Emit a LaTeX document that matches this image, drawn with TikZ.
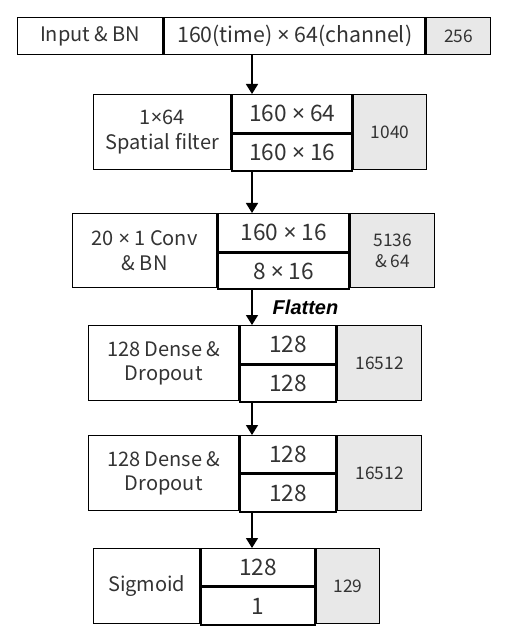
\documentclass[tikz,border=0pt]{standalone}
\usepackage{fontspec}
\setmainfont{Noto Sans CJK SC}
\newfontfamily\symfont{Noto Sans}
\newfontfamily\flatfont{Liberation Sans}
\newcommand{\timesx}{{\symfont ×}}
\usetikzlibrary{arrows.meta}
\definecolor{paramgray}{RGB}{232,232,232}
\definecolor{textgray}{RGB}{51,51,51}
\tikzset{
  cell/.style={draw, line width=1.1pt, inner sep=0pt, align=center, text=textgray,
    font=\fontsize{15}{18.5}\selectfont},
  dims/.style={cell, font=\fontsize{17}{20}\selectfont},
  param/.style={cell, fill=paramgray, font=\fontsize{13}{16}\selectfont},
  sz/.style 2 args={minimum width=#1*0.75pt, minimum height=#2*0.75pt},
  flow/.style={-{Triangle[length=7.5pt,width=9pt]}, line width=1.1pt}
}
\begin{document}
\begin{tikzpicture}[x=0.75pt,y=0.75pt,yscale=-1,xscale=1]
\useasboundingbox (0,0) rectangle (506,634);
\coordinate (axis) at (252,0);

%Row 1: input
\node [cell, sz={145}{37}, anchor=north west] (inName) at (17,17) {Input \& BN};
\node [dims, sz={261}{37}, anchor=north west, font=\fontsize{16}{19}\selectfont] (inShape) at (inName.north east) {160(time) \timesx{} 64(channel)};
\node [param, sz={64}{37}, anchor=north west] (inParam) at (inShape.north east) {256};

%Row 2: spatial filter
\node [cell, sz={137}{75}, anchor=north west] (sfName) at (93,94) {1\timesx{}64\\Spatial filter};
\node [dims, sz={120}{38}, anchor=north west] (sfIn) at (sfName.north east) {160 \timesx{} 64};
\node [dims, sz={120}{37}, anchor=north] (sfOut) at (sfIn.south) {160 \timesx{} 16};
\node [param, sz={73}{75}, anchor=north west] (sfParam) at (sfIn.north east) {1040};

%Row 3: temporal conv
\node [cell, sz={144}{74}, anchor=north west] (cvName) at (72,213) {20 \timesx{} 1 Conv\\\& BN};
\node [dims, sz={131}{38}, anchor=north west] (cvIn) at (cvName.north east) {160 \timesx{} 16};
\node [dims, sz={131}{36}, anchor=north] (cvOut) at (cvIn.south) {8 \timesx{} 16};
\node [param, sz={84}{74}, anchor=north west] (cvParam) at (cvIn.north east) {5136\\\& 64};

%Row 4: dense 1
\node [cell, sz={150}{75}, anchor=north west] (dsaName) at (88,325) {128 Dense \&\\Dropout};
\node [dims, sz={96}{38}, anchor=north west] (dsaIn) at (dsaName.north east) {128};
\node [dims, sz={96}{37}, anchor=north] (dsaOut) at (dsaIn.south) {128};
\node [param, sz={84}{75}, anchor=north west] (dsaParam) at (dsaIn.north east) {16512};

%Row 5: dense 2
\node [cell, sz={150}{75}, anchor=north west] (dsbName) at (88,435) {128 Dense \&\\Dropout};
\node [dims, sz={96}{37}, anchor=north west] (dsbIn) at (dsbName.north east) {128};
\node [dims, sz={96}{38}, anchor=north] (dsbOut) at (dsbIn.south) {128};
\node [param, sz={84}{75}, anchor=north west] (dsbParam) at (dsbIn.north east) {16512};

%Row 6: output
\node [cell, sz={106}{75}, anchor=north west] (smName) at (93,548) {Sigmoid};
\node [dims, sz={114}{37}, anchor=north west] (smIn) at (smName.north east) {128};
\node [dims, sz={114}{38}, anchor=north] (smOut) at (smIn.south) {1};
\node [param, sz={63}{75}, anchor=north west] (smParam) at (smIn.north east) {129};

%Arrows
\draw [flow] (inShape.south -| axis) -- (sfIn.north -| axis);
\draw [flow] (sfOut.south -| axis) -- (cvIn.north -| axis);
\draw [flow] (cvOut.south -| axis) -- (dsaIn.north -| axis) node [midway, right=15pt, inner sep=0pt, text=black, font=\flatfont\fontsize{15}{18}\selectfont\bfseries\itshape] (flat) {Flatten};
\draw [flow] (dsaOut.south -| axis) -- (dsbIn.north -| axis);
\draw [flow] (dsbOut.south -| axis) -- (smIn.north -| axis);

\end{tikzpicture}
\end{document}
